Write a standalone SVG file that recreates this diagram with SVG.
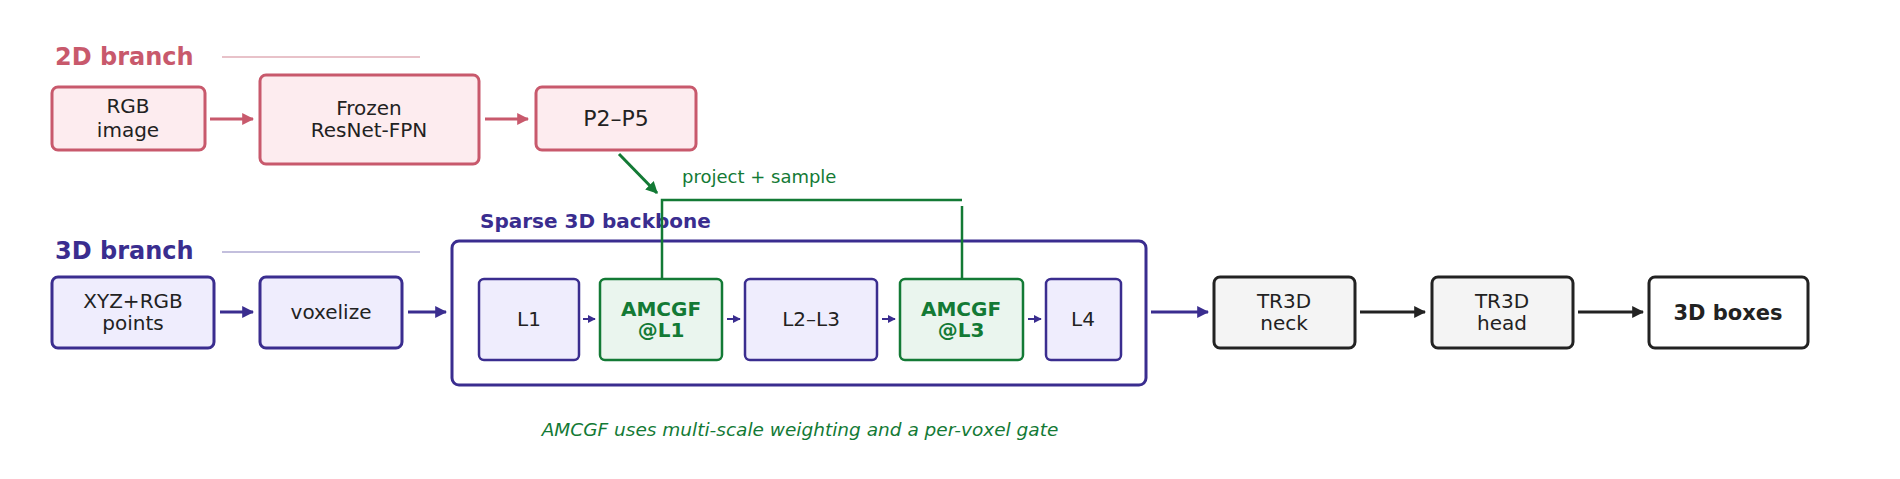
<svg xmlns="http://www.w3.org/2000/svg" width="1900" height="479" viewBox="0 0 1900 479">
<style>
text{font-family:"DejaVu Sans",sans-serif;text-anchor:middle}
.t{font-size:20px;fill:#222}
.p{fill:#fdecef;stroke:#c8596c;stroke-width:3}
.b{fill:#efedfd;stroke:#3a2d8f;stroke-width:3}
.g{fill:#eaf5ee;stroke:#137a35;stroke-width:2.5}
.k{fill:#f4f4f4;stroke:#222;stroke-width:3}
.gt{font-size:20px;font-weight:bold;fill:#137a35}
</style>
<defs>
<marker id="ap" viewBox="0 0 10 10" refX="9" refY="5" markerWidth="4" markerHeight="4" orient="auto"><path d="M0 0L10 5L0 10z" fill="#c8596c"/></marker>
<marker id="ab" viewBox="0 0 10 10" refX="9" refY="5" markerWidth="4" markerHeight="4" orient="auto"><path d="M0 0L10 5L0 10z" fill="#3a2d8f"/></marker>
<marker id="ak" viewBox="0 0 10 10" refX="9" refY="5" markerWidth="4" markerHeight="4" orient="auto"><path d="M0 0L10 5L0 10z" fill="#222"/></marker>
<marker id="ag" viewBox="0 0 10 10" refX="9" refY="5" markerWidth="4" markerHeight="4" orient="auto"><path d="M0 0L10 5L0 10z" fill="#137a35"/></marker>
</defs>
<g id="titles">
<text x="55" y="65" style="text-anchor:start;font-size:24px;font-weight:bold;fill:#c8596c">2D branch</text>
<line x1="222" y1="57" x2="420" y2="57" stroke="#e8c2c9" stroke-width="2"/>
<text x="55" y="259" style="text-anchor:start;font-size:24px;font-weight:bold;fill:#3a2d8f">3D branch</text>
<line x1="222" y1="252" x2="420" y2="252" stroke="#c3bfdd" stroke-width="2"/>
<text x="480" y="228" style="text-anchor:start;font-size:20px;font-weight:bold;fill:#3a2d8f">Sparse 3D backbone</text>
<text x="682" y="183" style="text-anchor:start;font-size:18px;fill:#137a35">project + sample</text>
<text x="800" y="436" style="font-size:18.5px;font-style:italic;fill:#137a35">AMCGF uses multi-scale weighting and a per-voxel gate</text>
</g>
<g id="backbone"><rect x="452" y="241" width="694" height="144" rx="7" fill="none" stroke="#3a2d8f" stroke-width="3"/></g>
<g id="rgb"><rect class="p" x="52" y="87" width="153" height="63" rx="6"/><text class="t" x="128" y="113">RGB</text><text class="t" x="128" y="137">image</text></g>
<g id="fpn"><rect class="p" x="260" y="75" width="219" height="89" rx="6"/><text class="t" x="369" y="115">Frozen</text><text class="t" x="369" y="137">ResNet-FPN</text></g>
<g id="p2p5"><rect class="p" x="536" y="87" width="160" height="63" rx="6"/><text x="616" y="126" style="font-size:22px;fill:#222">P2–P5</text></g>
<g id="xyz"><rect class="b" x="52" y="277" width="162" height="71" rx="6"/><text class="t" x="133" y="308">XYZ+RGB</text><text class="t" x="133" y="330">points</text></g>
<g id="vox"><rect class="b" x="260" y="277" width="142" height="71" rx="6"/><text class="t" x="331" y="319">voxelize</text></g>
<g id="l1"><rect class="b" x="479" y="279" width="100" height="81" rx="5" style="stroke-width:2.5"/><text class="t" x="529" y="326">L1</text></g>
<g id="amcgf1"><rect class="g" x="600" y="279" width="122" height="81" rx="5"/><text class="gt" x="661" y="316">AMCGF</text><text class="gt" x="661" y="337">@L1</text></g>
<g id="l23"><rect class="b" x="745" y="279" width="132" height="81" rx="5" style="stroke-width:2.5"/><text class="t" x="811" y="326">L2–L3</text></g>
<g id="amcgf3"><rect class="g" x="900" y="279" width="123" height="81" rx="5"/><text class="gt" x="961" y="316">AMCGF</text><text class="gt" x="961" y="337">@L3</text></g>
<g id="l4"><rect class="b" x="1046" y="279" width="75" height="81" rx="5" style="stroke-width:2.5"/><text class="t" x="1083" y="326">L4</text></g>
<g id="neck"><rect class="k" x="1214" y="277" width="141" height="71" rx="6"/><text class="t" x="1284" y="308">TR3D</text><text class="t" x="1284" y="330">neck</text></g>
<g id="head"><rect class="k" x="1432" y="277" width="141" height="71" rx="6"/><text class="t" x="1502" y="308">TR3D</text><text class="t" x="1502" y="330">head</text></g>
<g id="boxes"><rect x="1649" y="277" width="159" height="71" rx="6" fill="#fff" stroke="#222" stroke-width="3"/><text x="1728" y="320" style="font-size:21px;font-weight:bold;fill:#222">3D boxes</text></g>
<g id="connectors" fill="none" stroke-width="3">
<line x1="210" y1="119" x2="253" y2="119" stroke="#c8596c" marker-end="url(#ap)"/>
<line x1="485" y1="119" x2="528" y2="119" stroke="#c8596c" marker-end="url(#ap)"/>
<line x1="619" y1="154" x2="657" y2="193" stroke="#137a35" marker-end="url(#ag)"/>
<polyline points="662,279 662,200 962,200" stroke="#137a35" stroke-width="2.5"/>
<line x1="962" y1="206" x2="962" y2="279" stroke="#137a35" stroke-width="2.5"/>
<line x1="220" y1="312" x2="253" y2="312" stroke="#3a2d8f" marker-end="url(#ab)"/>
<line x1="408" y1="312" x2="446" y2="312" stroke="#3a2d8f" marker-end="url(#ab)"/>
<line x1="583" y1="319" x2="595" y2="319" stroke="#3a2d8f" stroke-width="2" marker-end="url(#ab)"/>
<line x1="727" y1="319" x2="740" y2="319" stroke="#3a2d8f" stroke-width="2" marker-end="url(#ab)"/>
<line x1="882" y1="319" x2="895" y2="319" stroke="#3a2d8f" stroke-width="2" marker-end="url(#ab)"/>
<line x1="1028" y1="319" x2="1041" y2="319" stroke="#3a2d8f" stroke-width="2" marker-end="url(#ab)"/>
<line x1="1151" y1="312" x2="1208" y2="312" stroke="#3a2d8f" marker-end="url(#ab)"/>
<line x1="1360" y1="312" x2="1425" y2="312" stroke="#222" marker-end="url(#ak)"/>
<line x1="1578" y1="312" x2="1643" y2="312" stroke="#222" marker-end="url(#ak)"/>
</g>
</svg>
